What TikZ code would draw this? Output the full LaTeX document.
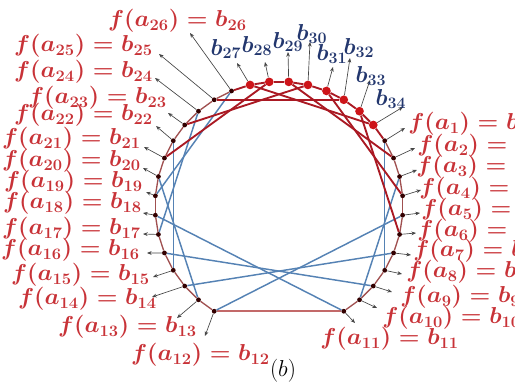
\documentclass[tikz,border=0pt]{standalone}
\usepackage{graphicx}
\usetikzlibrary{arrows.meta}
\definecolor{labred}{RGB}{200,50,55}
\definecolor{labblue}{RGB}{35,55,110}
\definecolor{chordred}{RGB}{170,25,35}
\definecolor{chordblue}{RGB}{85,130,180}
\definecolor{ringc}{RGB}{160,80,80}
\definecolor{bottomc}{RGB}{195,105,105}
\definecolor{dotred}{RGB}{205,20,25}
\definecolor{arrc}{RGB}{70,70,70}
\pgfdeclarelayer{bg}
\pgfsetlayers{bg,main}
\newcommand\flabtext[1]{\scalebox{1.03}[1]{\boldmath$f(a_{#1})=b_{#1}$}}
\newcommand\blabtext[1]{\scalebox{1.0}[1]{\boldmath$b_{#1}$}}
\begin{document}
\begin{tikzpicture}[x=0.75pt,y=-0.75pt,
 adot/.style={circle,fill=black!80!red,inner sep=0pt,minimum size=3.6pt},
 bdot/.style={circle,fill=dotred,inner sep=0pt,minimum size=6.5pt},
 ring/.style={draw=ringc,line width=1pt},
 bottomline/.style={draw=bottomc,line width=1.3pt},
 redline/.style={draw=chordred,line width=1.4pt},
 blueline/.style={draw=chordblue,line width=1.1pt},
 arr/.style={draw=arrc,line width=0.5pt,-{Stealth[length=3.5pt,width=2.8pt]}},
 flab/.style={text=labred,inner sep=0pt,font=\fontsize{17.28}{18}\selectfont},
 blab/.style={text=labblue,inner sep=0pt,font=\fontsize{17.28}{18}\selectfont},
]
\useasboundingbox (0,0) rectangle (515,383);
% vertices
\foreach \L in {1,...,34}{
  \pgfmathsetmacro\k{\L<12 ? 4-\L : 38-\L}
  \pgfmathsetmacro\t{4.5+9*\k}
  \ifnum\L<27
    \node[adot] (v\L) at ({279+124*cos(\t)},{205.5-124*sin(\t)}) {};
  \else
    \node[bdot] (v\L) at ({279+124*cos(\t)},{205.5-124*sin(\t)}) {};
  \fi
}
\begin{pgfonlayer}{bg}
% outer cycle
\foreach \L in {1,...,10,12,13,...,25}{
  \pgfmathtruncatemacro\n{\L+1}
  \draw[ring] (v\L) -- (v\n);
}
\draw[bottomline] (v11) -- (v12);
\foreach \L in {26,...,33}{
  \pgfmathtruncatemacro\n{\L+1}
  \draw[redline] (v\L) -- (v\n);
}
\draw[redline] (v34) -- (v1);
% chords
\foreach \i/\j in {1/8,3/10,5/12,7/14,9/16,11/18,13/20,15/22,17/24,19/26}
  \draw[blueline] (v\i) -- (v\j);
\foreach \i/\j in {21/28,23/30,25/32,27/34,29/2,31/4,33/6}
  \draw[redline] (v\i) -- (v\j);
\end{pgfonlayer}
% arrows
\foreach \L/\x/\y in {1/405/128,2/415/148,3/417/170,4/421/190,5/420/213,6/416/233,
  7/411/255,8/402/274,9/392/292,10/377/308,11/355/323,12/205/336,13/177/318,
  14/152/297,15/153/277,16/147/253,17/143/234,18/143/213,19/146/192,20/143/168,
  21/144/147,22/156/126,23/168/113,24/155/78,25/159/54,26/190/33,27/237/63,
  28/265/62,29/288/52,30/310/42,31/333/67,32/350/58,33/370/80,34/403/107}{
  \coordinate (t\L) at (\x,\y);
  \draw[arr] (v\L) -- (t\L);
}
% left labels
\foreach \L/\x/\y in {26/247/21,25/153/46,24/153/72,23/167/98,22/153/115,
  21/141/139,20/141/161,19/143/182,18/142/203,17/141/229,16/140/250,
  15/150/275,14/157/299,13/197/327,12/270/355}
  \node[flab,anchor=east] (f\L) at (\x,\y) {\flabtext{\L}};
% right labels
\foreach \L/\x/\y in {1/408/124,2/417/146,3/416/167,4/419/189,5/421/210,
  6/417/231,7/413/251,8/406/272,9/400/297,10/382/318,11/320/339}
  \node[flab,anchor=west] (f\L) at (\x,\y) {\flabtext{\L}};
% top b labels
\foreach \L/\x/\y in {27/226/49,28/257/46,29/288/42,30/312/34,31/332/54,
  32/359/48,33/371/76,34/391/99}
  \node[blab] (g\L) at (\x,\y) {\blabtext{\L}};
\node[inner sep=0pt,font=\fontsize{17.28}{18}\selectfont] (cap) at (283,371) {$(b)$};
\end{tikzpicture}
\end{document}
